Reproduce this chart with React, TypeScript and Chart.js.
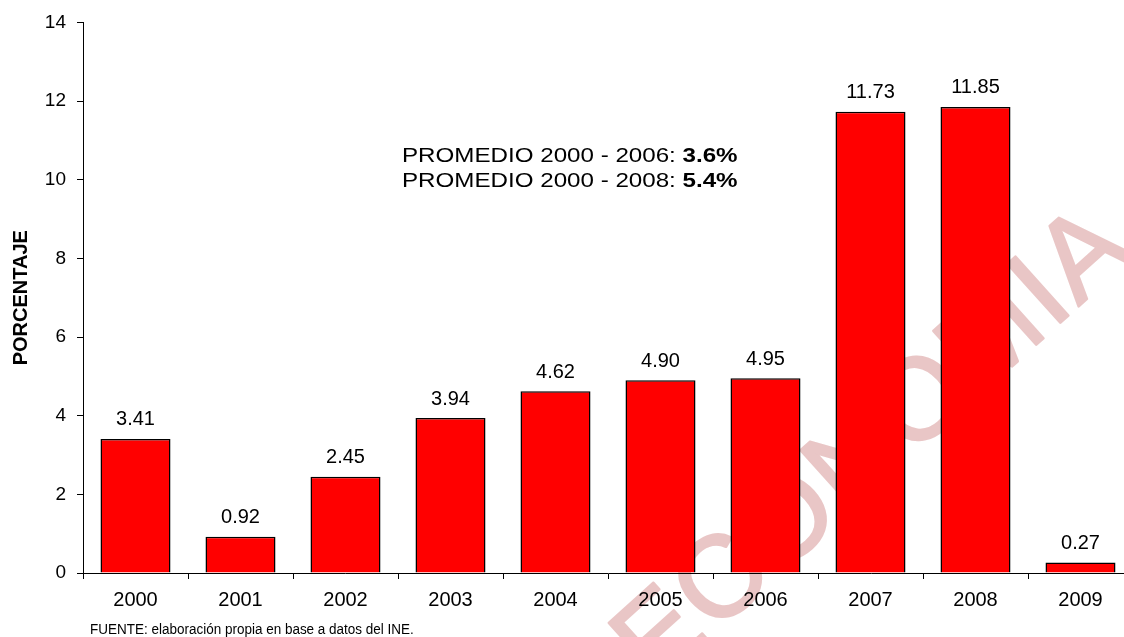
import React, { useEffect, useRef } from "react";
import { Chart, registerables } from "chart.js";

Chart.register(...registerables);

const categories = ["2000", "2001", "2002", "2003", "2004", "2005", "2006", "2007", "2008", "2009"];
const values = [3.41, 0.92, 2.45, 3.94, 4.62, 4.9, 4.95, 11.73, 11.85, 0.27];
const yMin = 0;
const yMax = 14;
const yStep = 2;
const yTitle = "PORCENTAJE";
const noteLines = [
  { label: "PROMEDIO 2000 - 2006: ", value: "3.6%" },
  { label: "PROMEDIO 2000 - 2008: ", value: "5.4%" },
];
const sourceText = "FUENTE: elaboración propia en base a datos del INE.";
const watermarkText = "ECONOMIA";

const FONT = "'Liberation Sans', Arial, Helvetica, sans-serif";
const CANVAS_W = 1150;
const CANVAS_H = 637;

const watermarkPlugin = {
  id: "watermark",
  beforeDraw(chart: any) {
    const ctx = chart.ctx;
    ctx.save();
    ctx.translate(875, 447);
    ctx.rotate((-42 * Math.PI) / 180);
    ctx.font = `115px ${FONT}`;
    (ctx as any).letterSpacing = "3px";
    ctx.fillStyle = "#e9c6c6";
    ctx.strokeStyle = "#e9c6c6";
    ctx.lineWidth = 2.5;
    ctx.lineJoin = "round";
    ctx.textAlign = "center";
    ctx.textBaseline = "middle";
    ctx.strokeText(watermarkText, 0, 0);
    ctx.fillText(watermarkText, 0, 0);
    ctx.restore();
  },
};

const labelsPlugin = {
  id: "valueLabels",
  afterDatasetsDraw(chart: any) {
    const ctx = chart.ctx;
    const meta = chart.getDatasetMeta(0);
    ctx.save();
    ctx.font = `20px ${FONT}`;
    ctx.fillStyle = "#000";
    ctx.textAlign = "center";
    ctx.textBaseline = "alphabetic";
    meta.data.forEach((bar: any, i: number) => {
      ctx.fillText(values[i].toFixed(2), bar.x, bar.y - 13.5);
    });
    ctx.restore();
  },
};

const textPlugin = {
  id: "extraText",
  afterDraw(chart: any) {
    const ctx = chart.ctx;
    ctx.save();
    ctx.fillStyle = "#000";
    ctx.textAlign = "left";
    ctx.textBaseline = "alphabetic";
    const x0 = 402;
    const baselines = [162, 187];
    noteLines.forEach((ln, i) => {
      ctx.save();
      ctx.translate(x0, baselines[i]);
      ctx.scale(1.15, 1);
      ctx.font = `21px ${FONT}`;
      const w = ctx.measureText(ln.label).width;
      ctx.fillText(ln.label, 0, 0);
      ctx.font = `bold 21px ${FONT}`;
      ctx.fillText(ln.value, w, 0);
      ctx.restore();
    });
    ctx.save();
    ctx.translate(90, 634);
    ctx.scale(0.87, 1);
    ctx.font = `15.5px ${FONT}`;
    ctx.fillText(sourceText, 0, 0);
    ctx.restore();
    ctx.restore();
  },
};

export default function App() {
  const ref = useRef<HTMLCanvasElement | null>(null);

  useEffect(() => {
    if (!ref.current) return;
    const chart = new Chart(ref.current, {
      type: "bar",
      data: {
        labels: categories,
        datasets: [
          {
            data: values,
            backgroundColor: "#ff0000",
            borderColor: "#000000",
            borderWidth: 1.5,
            barPercentage: 0.667,
            categoryPercentage: 1,
          },
        ],
      },
      options: {
        animation: false,
        responsive: false,
        devicePixelRatio: 1,
        layout: { padding: { left: 0, right: CANVAS_W - 1133, top: 20, bottom: 0 } },
        plugins: {
          legend: { display: false },
          tooltip: { enabled: false },
        },
        scales: {
          x: {
            grid: {
              offset: true,
              drawOnChartArea: false,
              drawTicks: true,
              tickLength: 6,
              color: "#000",
            },
            border: { display: true, color: "#000", width: 1 },
            ticks: {
              color: "#000",
              font: { family: FONT, size: 20 },
              padding: 9,
              maxRotation: 0,
              autoSkip: false,
            },
            afterFit(scale: any) {
              scale.height = 64;
            },
          },
          y: {
            min: yMin,
            max: yMax,
            grid: {
              drawOnChartArea: false,
              drawTicks: true,
              tickLength: 6,
              color: "#000",
            },
            border: { display: true, color: "#000", width: 1 },
            ticks: {
              stepSize: yStep,
              color: "#000",
              font: { family: FONT, size: 19 },
              padding: 11,
            },
            title: {
              display: true,
              text: yTitle,
              color: "#000",
              font: { family: FONT, size: 20, weight: "bold" },
              padding: { top: 9, bottom: 0 },
            },
            afterFit(scale: any) {
              scale.width = 83;
            },
          },
        },
      },
      plugins: [watermarkPlugin, labelsPlugin, textPlugin],
    });
    return () => chart.destroy();
  }, []);

  return (
    <div
      style={{
        position: "absolute",
        left: 0,
        top: 0,
        width: 1124,
        height: 637,
        overflow: "hidden",
        background: "#fff",
      }}
    >
      <canvas ref={ref} width={CANVAS_W} height={CANVAS_H} style={{ display: "block" }} />
    </div>
  );
}
